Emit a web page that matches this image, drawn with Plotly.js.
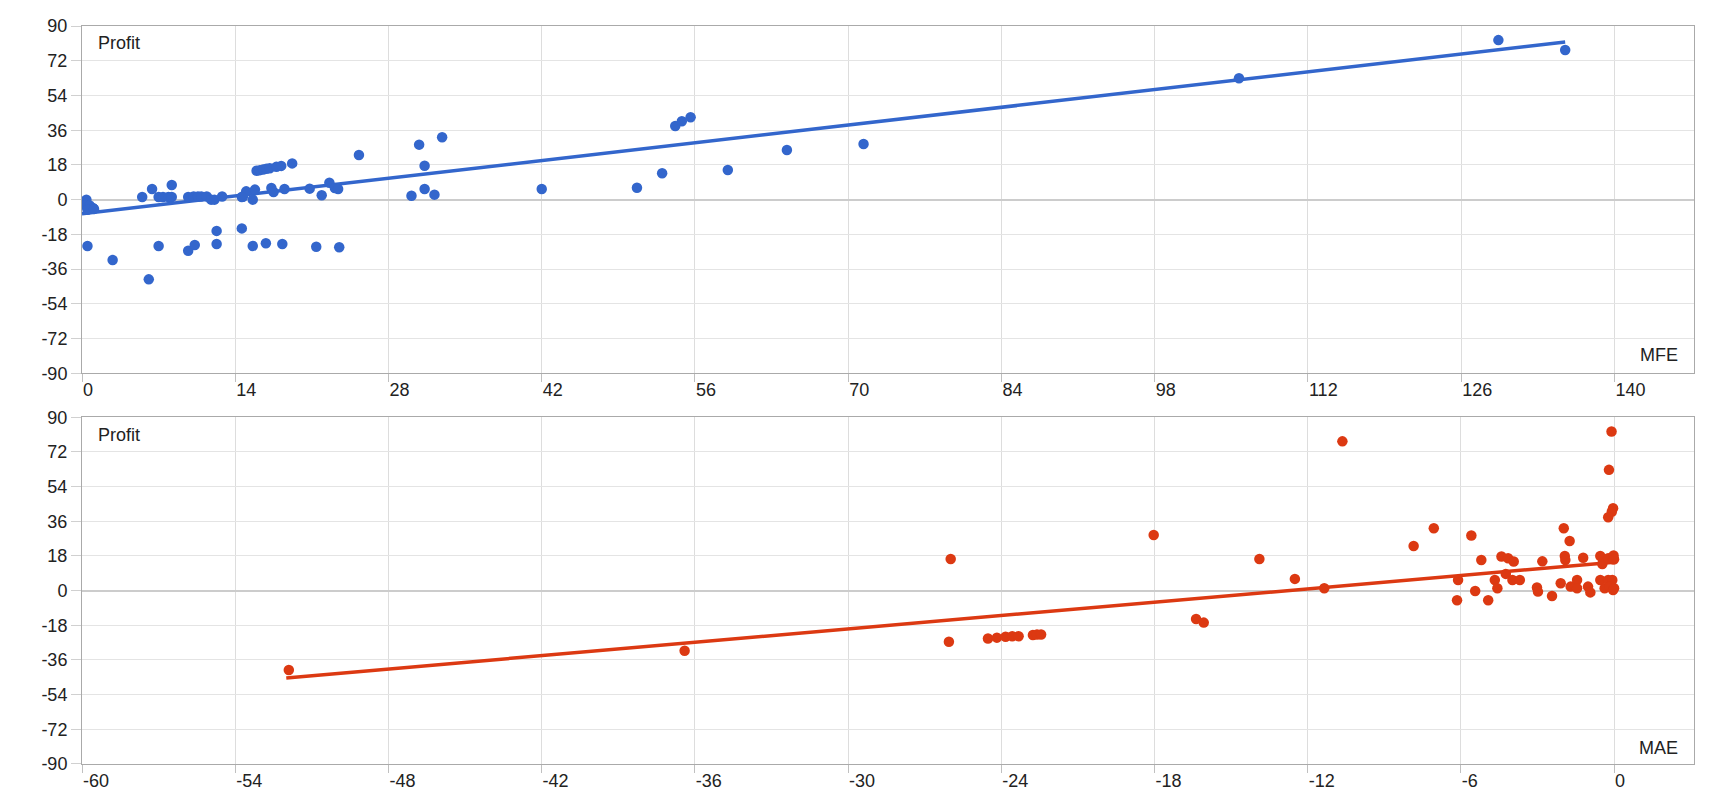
<!DOCTYPE html>
<html>
<head>
<meta charset="utf-8">
<script src="https://cdn.plot.ly/plotly-3.0.1.min.js"></script>
<style>
  html, body { margin: 0; padding: 0; background: #fff; }
  #plotDiv { width: 1720px; height: 800px; }
</style>
</head>
<body>
<div id="plotDiv"></div>
<script>
// MFE vs Profit (top panel)
const mfe = [
	0.4, 0.3, 0.7, 1.0, 0.5, 1.1, 0.5, 2.8, 6.1,
	5.5, 6.4, 7.0, 7.4, 7.9, 8.2, 8.2, 7.0,
	9.7, 10.2, 10.6, 10.9, 11.4, 11.8, 12.1, 12.8,
	9.7, 10.3, 12.3, 12.3,
	14.6, 14.7, 15.0, 15.8, 15.6, 14.6,
	15.95, 16.25, 16.55, 16.85, 17.15, 17.76, 18.2, 19.2,
	15.6, 16.8, 18.3,
	17.3, 17.5, 18.5,
	20.8, 21.9, 21.4,
	22.6, 23.1, 23.4, 23.5,
	25.3,
	30.1, 31.3, 32.2, 31.3, 30.8, 32.9,
	42.0, 50.7, 53.0, 54.2, 54.8, 55.6, 59.0, 64.4, 71.4,
	105.7, 129.4, 135.5
]
const mfeProfit = [
	0, -3, -3, -4.3, -5.2, -4.8, -24, -31.3, -41.3,
	1.4, 5.5, 1.4, 1.4, 1.4, 1.4, 7.6, -24,
	1.4, 1.6, 1.6, 1.6, 1.6, 0, 0, 1.6,
	-26.5, -23.5, -16.2, -23,
	-14.9, 1.5, 4.3, 5.2, 0, 1.4,
	15.0, 15.3, 15.6, 16.0, 16.3, 17.0, 17.5, 18.8,
	-24, -22.6, -23,
	6, 4, 5.5,
	5.7, 2.3, -24.4,
	8.8, 6, 5.5, -24.7,
	23.1,
	2.05, 5.5, 2.6, 17.6, 28.5, 32.3,
	5.5, 6.2, 13.7, 38.2, 40.6, 42.7, 15.4, 25.7, 28.8,
	62.9, 82.7, 77.6
]
const mfeTrendX = [0, 135.5]
const mfeTrendY = [-7.3, 81.7]

// MAE vs Profit (bottom panel)
const mae = [
	-51.9, -36.4,
	-25.98, -26.05, -24.52, -24.17, -23.83, -23.57, -23.32, -22.76, -22.60, -22.44,
	-18.03, -16.37, -16.07, -13.89, -12.50, -11.35, -10.64,
	-0.10, -0.20, -0.04, -0.09, -0.23,
	-7.85, -7.06, -5.59, -1.97, -1.74,
	-5.2, -4.41, -4.15, -3.93, -2.81, -1.93, -1.91, -1.21, -0.54, -0.46, -0.23, -0.04, -0.02, 0,
	-6.11, -6.15, -5.44, -4.93, -4.67, -4.57, -4.24, -3.98, -3.69, -3.02, -2.98, -2.43,
	-2.09, -1.70, -1.45, -1.45, -1.02, -0.93, -0.54, -0.37, -0.23, -0.07, -0.17, -0.04, 0
]
const maeProfit = [
	-41.2, -31.2,
	16.4, -26.5, -24.8, -24.4, -23.9, -23.7, -23.7, -23.0, -22.8, -22.8,
	28.9, -14.7, -16.6, 16.4, 6.1, 1.2, 77.5,
	82.6, 62.7, 42.8, 41.0, 38.1,
	23.2, 32.4, 28.6, 32.4, 25.8,
	15.9, 17.7, 16.8, 15.1, 15.2, 18.0, 15.9, 17.1, 18.0, 13.8, 16.8, 16.3, 18.3, 16.3,
	5.5, -5.0, -0.2, -5.0, 5.5, 1.2, 8.7, 5.5, 5.5, 1.6, -0.5, -2.8,
	3.8, 2.1, 5.5, 1.2, 2.1, -0.9, 5.5, 1.2, 5.5, 5.5, 2.1, 0.3, 1.2
]
const maeTrendX = [-52, 0]
const maeTrendY = [-45.3, 14.8]

// tick positions and labels (plain hyphen minus, as in the original)
const profitTicks = [-90, -72, -54, -36, -18, 0, 18, 36, 54, 72, 90]
const profitLabels = ['-90', '-72', '-54', '-36', '-18', '0', '18', '36', '54', '72', '90']
const mfeTicks = [0, 14, 28, 42, 56, 70, 84, 98, 112, 126, 140]
const mfeLabels = ['0', '14', '28', '42', '56', '70', '84', '98', '112', '126', '140']
const maeTicks = [-60, -54, -48, -42, -36, -30, -24, -18, -12, -6, 0]
const maeLabels = ['-60', '-54', '-48', '-42', '-36', '-30', '-24', '-18', '-12', '-6', '0']

const blue = '#3366cc'
const red = '#dc3912'
const font = {family: 'Liberation Sans, Arial, sans-serif', size: 18, color: '#222'}

const yAxis = (domain, anchor) => ({
	domain: domain,
	anchor: anchor,
	range: [-90, 90],
	tickvals: profitTicks,
	ticktext: profitLabels,
	showgrid: true,
	gridcolor: '#e4e4e4',
	zeroline: true,
	zerolinecolor: '#cccccc',
	zerolinewidth: 2,
	showline: true,
	linecolor: '#aaaaaa',
	mirror: true,
	ticks: 'outside',
	ticklen: 10,
	tickcolor: '#d0d0d0',
	fixedrange: true
})

const xAxis = (range, vals, text, anchor) => ({
	range: range,
	tickvals: vals,
	ticktext: text,
	anchor: anchor,
	showgrid: true,
	gridcolor: '#dddddd',
	zeroline: false,
	showline: true,
	linecolor: '#aaaaaa',
	mirror: true,
	ticks: 'outside',
	ticklen: 8,
	tickcolor: '#c0c0c0',
	ticklabelposition: 'outside right',
	fixedrange: true
})

const data = [
	{x: mfeTrendX, y: mfeTrendY, mode: 'lines', line: {color: blue, width: 3.5}, xaxis: 'x', yaxis: 'y', hoverinfo: 'skip'},
	{x: mfe, y: mfeProfit, mode: 'markers', marker: {color: blue, size: 10.5}, xaxis: 'x', yaxis: 'y'},
	{x: maeTrendX, y: maeTrendY, mode: 'lines', line: {color: red, width: 3.5}, xaxis: 'x2', yaxis: 'y2', hoverinfo: 'skip'},
	{x: mae, y: maeProfit, mode: 'markers', marker: {color: red, size: 10.5}, xaxis: 'x2', yaxis: 'y2'}
]

const label = (text, xref, yref, x, y, xanchor) => ({
	text: text, xref: xref, yref: yref, x: x, y: y,
	xanchor: xanchor, yanchor: 'middle', showarrow: false, font: font
})

const layout = {
	width: 1720,
	height: 800,
	margin: {l: 82, r: 26, t: 26, b: 36},
	showlegend: false,
	paper_bgcolor: '#fff',
	plot_bgcolor: '#fff',
	font: font,
	xaxis: xAxis([0, 147.27], mfeTicks, mfeLabels, 'y'),
	yaxis: yAxis([0.5294, 1], 'x'),
	xaxis2: xAxis([-60, 3.13], maeTicks, maeLabels, 'y2'),
	yaxis2: yAxis([0, 0.4698], 'x2'),
	annotations: [
		label('Profit', 'x domain', 'y domain', 0.0085, 0.951, 'left'),
		label('MFE', 'x domain', 'y domain', 0.9911, 0.053, 'right'),
		label('Profit', 'x2 domain', 'y2 domain', 0.0085, 0.949, 'left'),
		label('MAE', 'x2 domain', 'y2 domain', 0.9911, 0.045, 'right')
	]
}

const config = {displayModeBar: false, staticPlot: true}
Plotly.newPlot('plotDiv', data, layout, config)
</script>
</body>
</html>
